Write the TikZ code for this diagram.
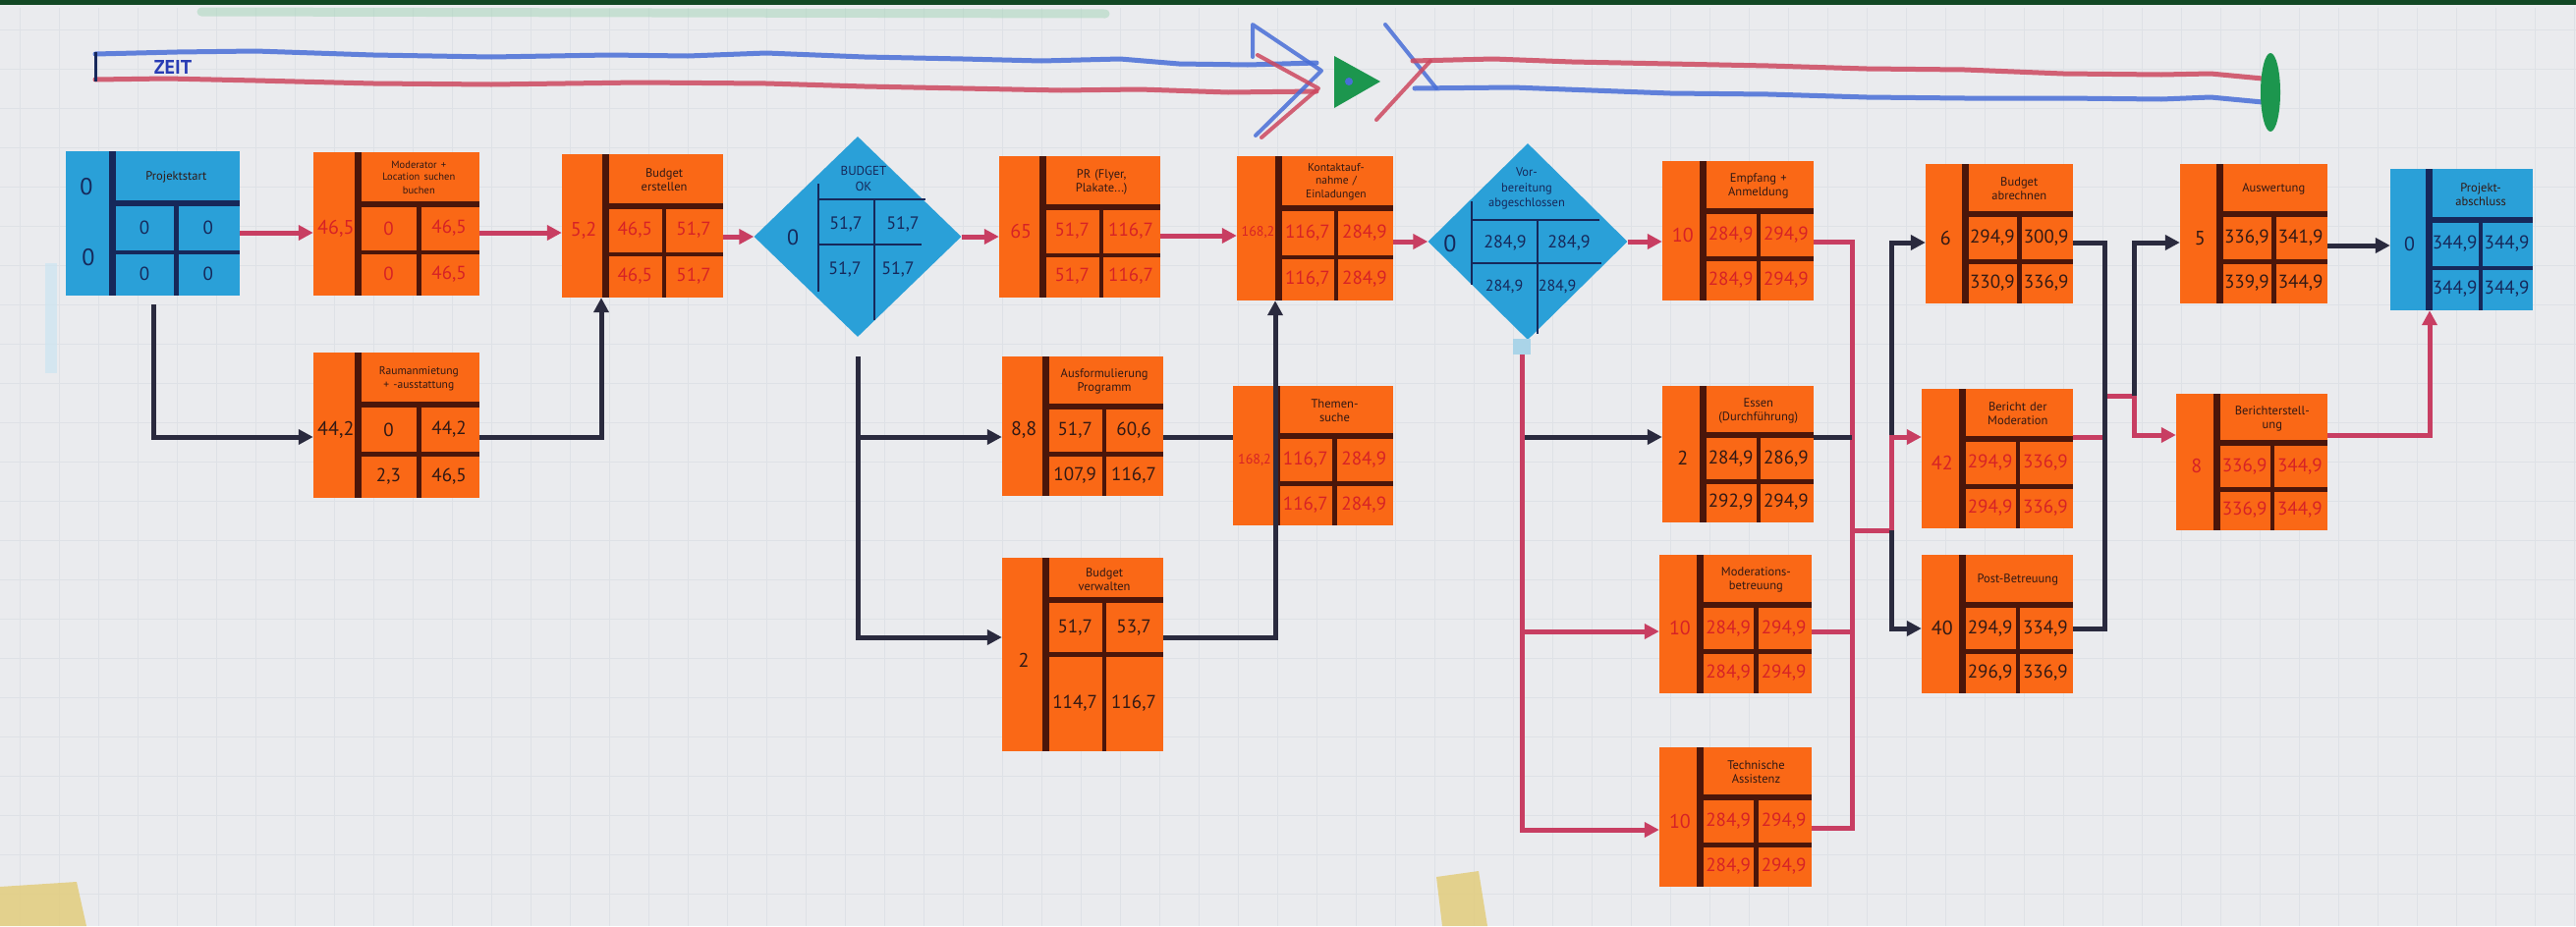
\documentclass[tikz,border=0pt]{standalone}
\usepackage{fontspec}
\setmainfont{PT Sans}
\usetikzlibrary{arrows.meta,shapes.geometric,fit,calc}

\definecolor{paper}{RGB}{234,235,238}
\definecolor{gridc}{RGB}{222,225,230}
\definecolor{orng}{RGB}{250,104,22}
\definecolor{bluebox}{RGB}{42,160,216}
\definecolor{brn}{RGB}{75,22,10}
\definecolor{navy}{RGB}{22,40,90}
\definecolor{numred}{RGB}{214,34,38}
\definecolor{numdark}{RGB}{50,25,20}
\definecolor{linered}{RGB}{200,62,98}
\definecolor{linedark}{RGB}{42,42,62}
\definecolor{zblue}{RGB}{72,110,215}
\definecolor{zred}{RGB}{205,72,95}
\definecolor{mgreen}{RGB}{28,150,78}
\definecolor{topgreen}{RGB}{18,72,36}
\definecolor{tape}{RGB}{226,205,125}
\definecolor{tabblue}{RGB}{170,212,232}
\definecolor{zeitblue}{RGB}{40,60,180}

\tikzset{
  tip/.style={-{Triangle[length=15pt,width=15pt]}},
  redc/.style={draw=linered, line width=5pt, tip},
  redn/.style={draw=linered, line width=5pt},
  darkc/.style={draw=linedark, line width=5pt, tip},
  darkn/.style={draw=linedark, line width=5pt},
  gridline/.style={draw=gridc, line width=1pt},
  boxC/.style={fill=orng, inner sep=0pt, draw=none},
  boxN/.style={fill=orng, inner sep=0pt, draw=none},
  boxB/.style={fill=bluebox, inner sep=0pt, draw=none},
  innerC/.style={draw=brn},
  innerN/.style={draw=brn},
  innerB/.style={draw=navy},
  numC/.style={text=numred},
  numN/.style={text=numdark},
  numB/.style={text=navy},
  durtext/.style={font=\fontsize{20}{20}\selectfont, inner sep=0pt},
  celltext/.style={font=\fontsize{19}{19}\selectfont, inner sep=0pt},
  titletext/.style={font=\fontsize{12.5}{14}\selectfont, text=numdark, align=center, inner sep=0pt},
  dline/.style={draw=navy, line width=2pt},
  dtitle/.style={font=\fontsize{13}{16}\selectfont, text=navy, align=center, inner sep=0pt},
  dnum/.style={font=\fontsize{18}{18}\selectfont, text=navy, inner sep=0pt},
  zline/.style={line width=5pt, line join=round, line cap=round, opacity=0.85},
}

\def\tfr{0.36}
\def\rfr{0.70}
\def\tcells#1/#2/#3/#4\relax{%
  \node[celltext, curnum] (\tname-a) at ({(\xd+\xm)/2},{(\yt+\yr)/2}) {#1};
  \node[celltext, curnum] (\tname-b) at ({(\xm+\xb)/2},{(\yt+\yr)/2}) {#2};
  \node[celltext, curnum] (\tname-c) at ({(\xd+\xm)/2},{(\yr+\yb)/2}) {#3};
  \node[celltext, curnum] (\tname-d) at ({(\xm+\xb)/2},{(\yr+\yb)/2}) {#4};
}
\newcommand\tnode[9]{%
  \pgfmathsetmacro\xa{#2}\pgfmathsetmacro\ya{#3}%
  \pgfmathsetmacro\xb{#4}\pgfmathsetmacro\yb{#5}%
  \pgfmathsetmacro\xd{\xa+0.27*(\xb-\xa)}%
  \pgfmathsetmacro\xm{(\xd+\xb)/2}%
  \pgfmathsetmacro\yt{\ya+\tfr*(\yb-\ya)}%
  \pgfmathsetmacro\yr{\ya+\rfr*(\yb-\ya)}%
  \pgfmathsetmacro\tw{\xb-\xd-8}%
  \tikzset{curnum/.style={num#6}, curline/.style={inner#6}}%
  \node[fit={(\xa,\ya) (\xb,\yb)}, box#6] (#1) {};
  \draw[curline, line width=7pt] (\xd,\ya) -- (\xd,\yb);
  \draw[curline, line width=6pt] (\xd,\yt) -- (\xb,\yt);
  \draw[curline, line width=4.5pt] (\xd,\yr) -- (\xb,\yr);
  \draw[curline, line width=4.5pt] (\xm,\yt) -- (\xm,\yb);
  \node[durtext, curnum] (#1-dur) at ({(\xa+\xd)/2},{\ya+0.53*(\yb-\ya)}) {#7};
  \node[titletext, text width=\tw pt] (#1-title) at ({(\xd+\xb)/2},{(\ya+\yt)/2}) {#8};
  \def\tname{#1}%
  \tcells#9\relax
}

\begin{document}
\begin{tikzpicture}[x=1pt,y=-1pt]
\useasboundingbox (0,0) rectangle (2622,943);
% paper
\fill[paper] (0,0) rectangle (2622,943);
\foreach \g in {20,60,...,2620} \draw[gridline] (\g,8) -- (\g,943);
\foreach \g in {30,70,...,930} \draw[gridline] (0,\g) -- (2622,\g);
\fill[topgreen] (0,0) rectangle (2622,5);
\draw[line width=9pt, mgreen!40, opacity=0.5, line cap=round] (205,12) -- (1125,14);
\fill[tabblue!60, opacity=0.7] (46,268) rectangle (58,380);
\fill[tape, opacity=0.85] (0,903) -- (78,898) -- (88,943) -- (0,943) -- cycle;
\fill[tape, opacity=0.85] (1462,893) -- (1505,887) -- (1514,943) -- (1468,943) -- cycle;

% time line
\draw[zline, zblue] (97,55) -- (180,53) -- (260,52) -- (380,56) -- (500,58) -- (620,56) -- (700,57) -- (780,54) -- (880,58) -- (980,60) -- (1060,62) -- (1140,60) -- (1200,65) -- (1270,66) -- (1340,64);
\draw[zline, zred] (97,81) -- (170,80) -- (260,82) -- (380,85) -- (500,86) -- (650,84) -- (780,85) -- (880,88) -- (980,90) -- (1080,92) -- (1160,91) -- (1250,94) -- (1340,93);
\draw[navy, line width=3pt] (97,53) -- (97,83);
\node[font=\fontsize{20}{20}\selectfont\bfseries, text=zeitblue, inner sep=0pt] (zeit) at (176,68) {ZEIT};
\draw[zline, zblue, line width=4pt] (1275,58) -- (1275,25) -- (1345,72) -- (1278,138);
\draw[zline, zred, line width=4pt] (1280,56) -- (1342,90) -- (1284,140);
\fill[mgreen] (1358,57) -- (1405,83) -- (1358,110) -- cycle;
\fill[zblue] (1373,83) circle (4);
\draw[zline, zblue, line width=4pt] (1410,25) -- (1462,90);
\draw[zline, zred, line width=4pt] (1401,122) -- (1456,62);
\draw[zline, zred] (1438,62) -- (1520,60) -- (1600,63) -- (1700,65) -- (1800,67) -- (1900,70) -- (2000,71) -- (2100,75) -- (2200,76) -- (2250,75) -- (2303,80);
\draw[zline, zblue] (1440,90) -- (1540,89) -- (1620,92) -- (1700,95) -- (1800,96) -- (1900,99) -- (2000,100) -- (2100,100) -- (2200,101) -- (2250,99) -- (2303,104);
\fill[mgreen] (2311,94) ellipse (10 and 40);

% task nodes
\tnode{start}{67}{154}{244}{301}{B}{}{Projektstart}{0/0/0/0}
\node[font=\fontsize{24}{24}\selectfont, text=navy, inner sep=0pt] (start-d1) at (88,190) {0};
\node[font=\fontsize{24}{24}\selectfont, text=navy, inner sep=0pt] (start-d2) at (90,262) {0};
\tnode{mod}{319}{155}{488}{301}{C}{46,5}{{\fontsize{10.5}{12}\selectfont Moderator +\\Location suchen\\buchen}}{0/46,5/0/46,5}
\tnode{raum}{319}{359}{488}{507}{N}{44,2}{{\fontsize{11.5}{14}\selectfont Raumanmietung\\+ -ausstattung}}{0/44,2/2,3/46,5}
\tnode{bud}{572}{157}{736}{303}{C}{5,2}{Budget\\erstellen}{46,5/51,7/46,5/51,7}
\tnode{pr}{1017}{159}{1181}{303}{C}{65}{PR (Flyer,\\Plakate...)}{51,7/116,7/51,7/116,7}
\tnode{aut}{1020}{363}{1184}{505}{N}{8,8}{Ausformulierung\\Programm}{51,7/60,6/107,9/116,7}
\def\tfr{0.22}\def\rfr{0.50}
\tnode{bver}{1020}{568}{1184}{765}{N}{2}{Budget\\verwalten}{51,7/53,7/114,7/116,7}
\def\tfr{0.36}\def\rfr{0.70}
\tnode{kon}{1259}{159}{1418}{306}{C}{{\fontsize{14}{14}\selectfont 168,2}}{{\fontsize{11.5}{13}\selectfont Kontaktauf-\\nahme /\\Einladungen}}{116,7/284,9/116,7/284,9}
\tnode{thm}{1255}{393}{1418}{535}{C}{{\fontsize{14}{14}\selectfont 168,2}}{Themen-\\suche}{116,7/284,9/116,7/284,9}
\tnode{emp}{1692}{164}{1846}{306}{C}{10}{Empfang +\\Anmeldung}{284,9/294,9/284,9/294,9}
\tnode{ess}{1692}{393}{1846}{532}{N}{2}{Essen\\(Durchführung)}{284,9/286,9/292,9/294,9}
\tnode{mdb}{1689}{565}{1844}{706}{C}{10}{Moderations-\\betreuung}{284,9/294,9/284,9/294,9}
\tnode{tas}{1689}{761}{1844}{903}{C}{10}{Technische\\Assistenz}{284,9/294,9/284,9/294,9}
\tnode{bab}{1960}{167}{2110}{309}{N}{6}{Budget\\abrechnen}{294,9/300,9/330,9/336,9}
\tnode{ber}{1956}{396}{2110}{538}{C}{42}{Bericht der\\Moderation}{294,9/336,9/294,9/336,9}
\tnode{pob}{1956}{565}{2110}{706}{N}{40}{Post-Betreuung}{294,9/334,9/296,9/336,9}
\tnode{asw}{2219}{167}{2369}{309}{N}{5}{Auswertung}{336,9/341,9/339,9/344,9}
\tnode{bst}{2215}{401}{2369}{540}{C}{8}{Berichterstell-\\ung}{336,9/344,9/336,9/344,9}
\tnode{pab}{2433}{172}{2578}{316}{B}{0}{Projekt-\\abschluss}{344,9/344,9/344,9/344,9}

% milestone diamonds
\node[diamond, fill=bluebox, inner sep=0pt, minimum width=211pt, minimum height=204pt] (bok) at (873,241) {};
\draw[dline] (833,187) -- (833,297);
\draw[dline] (833,203) -- (942,203);
\draw[dline] (833,249) -- (938,249);
\draw[dline] (890,203) -- (890,326);
\node[dtitle] (bok-title) at (879,182) {BUDGET\\OK};
\node[font=\fontsize{22}{22}\selectfont, text=navy, inner sep=0pt] (bok-dur) at (807,242) {0};
\node[dnum] (bok-a) at (861,228) {51,7};
\node[dnum] (bok-b) at (919,228) {51,7};
\node[dnum] (bok-c) at (860,274) {51,7};
\node[dnum] (bok-d) at (914,274) {51,7};

\node[diamond, fill=bluebox, inner sep=0pt, minimum width=203pt, minimum height=200pt] (vab) at (1555,246) {};
\draw[dline] (1498,205) -- (1498,290);
\draw[dline] (1498,224) -- (1628,224);
\draw[dline] (1498,268) -- (1630,268);
\draw[dline] (1565,224) -- (1565,340);
\node[dtitle, font=\fontsize{12.5}{15.5}\selectfont] (vab-title) at (1554,192) {Vor-\\bereitung\\abgeschlossen};
\node[font=\fontsize{24}{24}\selectfont, text=navy, inner sep=0pt] (vab-dur) at (1476,248) {0};
\node[dnum] (vab-a) at (1532,247) {284,9};
\node[dnum] (vab-b) at (1597,247) {284,9};
\node[dnum, font=\fontsize{16}{16}\selectfont] (vab-c) at (1531,292) {284,9};
\node[dnum, font=\fontsize{16}{16}\selectfont] (vab-d) at (1585,292) {284,9};
\node[fill=tabblue, inner sep=0pt, minimum width=18pt, minimum height=16pt] (vabtab) at (1549,353) {};

% junction points
\coordinate (m1) at (1885,540);
\coordinate (m2) at (1925,540);
\coordinate (m3) at (2142,403);
\coordinate (m4) at (2172,403);

% connectors
\draw[redc] (start.east |- 0,237) -- (mod.west |- 0,237);
\draw[darkc, shorten <=9pt] (start.south -| 156,0) |- (raum.west |- 0,445);
\draw[redc] (mod.east |- 0,237) -- (bud.west |- 0,237);
\draw[darkc] (raum.east |- 0,445) -| (bud.south -| 612,0);
\draw[redc] (bud.east |- bok.west) -- (bok.west);
\draw[redc] (bok.east) -- (pr.west |- bok.east);
\draw[darkc] (bok.south |- 0,363) |- (bver.west |- 0,649);
\draw[darkc] (bok.south |- 0,445) -- (aut.west |- 0,445);
\draw[redc] (pr.east |- 0,240) -- (kon.west |- 0,240);
\draw[darkn] (aut.east |- 0,445) -- (thm.west |- 0,445);
\draw[darkc] (bver.east |- 0,649) -| (kon.south -| 1298,0);
\draw[redc] (kon.east |- vab.west) -- (vab.west);
\draw[redc] (vab.east) -- (emp.west |- vab.east);
\draw[darkc] (vabtab.south |- 0,445) -- (ess.west |- 0,445);
\draw[redc] (vabtab.south) |- (tas.west |- 0,845);
\draw[redc] (vabtab.south |- 0,643) -- (mdb.west |- 0,643);

\draw[redn] (emp.east |- 0,246) -| (m1 |- 0,843) -- (tas.east |- 0,843);
\draw[redn] (mdb.east |- 0,643) -- (m1 |- 0,643);
\draw[darkn] (ess.east |- 0,445) -- (m1 |- 0,445);
\draw[redn] (m1) -- (m2);
\draw[darkc] (m2) |- (bab.west |- 0,247);
\draw[darkc] (m2) |- (pob.west |- 0,640);
\draw[redc] (m2) |- (ber.west |- 0,445);

\draw[redn] (ber.east |- 0,445) -| (m3) -- (m4);
\draw[redc] (m4) |- (bst.west |- 0,443);
\draw[darkn] (bab.east |- 0,247) -| (m3 |- 0,640) -- (pob.east |- 0,640);
\draw[darkc] (m4) |- (asw.west |- 0,247);
\draw[darkc] (asw.east |- 0,250) -- (pab.west |- 0,250);
\draw[redc] (bst.east |- 0,443) -| (pab.south -| 2473,0);
\end{tikzpicture}
\end{document}
